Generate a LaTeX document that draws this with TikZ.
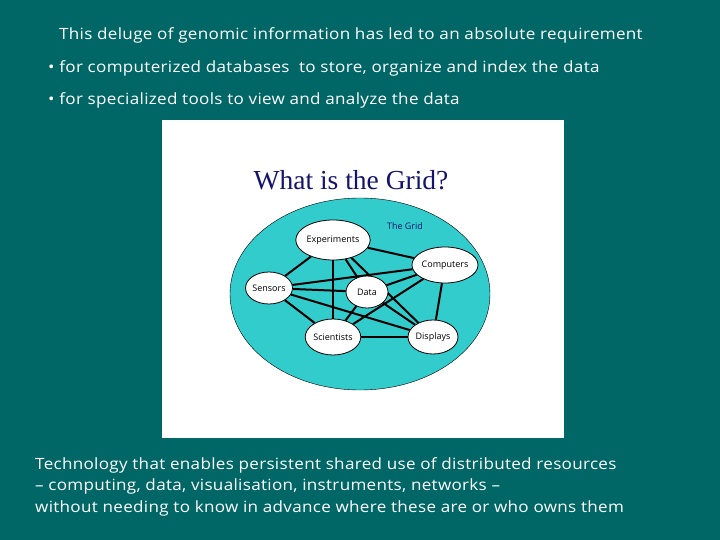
\documentclass[tikz,border=0pt]{standalone}
\usepackage{fontspec}
\setmainfont{Open Sans}[FakeStretch=1.1, LetterSpace=2]
\newfontfamily\ttl{Liberation Serif}
\newfontfamily\lbl{Open Sans}
\definecolor{bgc}{RGB}{0,102,102}
\definecolor{grd}{RGB}{51,204,204}
\definecolor{nvy}{RGB}{20,20,110}
\tikzset{>=latex}
\tikzset{nd/.style={draw, thick, fill=white, ellipse, inner sep=0pt, font=\lbl\fontsize{9}{10}\selectfont},
    ln/.style={line width=2pt},
    wt/.style={white, anchor=west, inner sep=0pt, font=\fontsize{15.5}{18}\selectfont}}
\usetikzlibrary{shapes.geometric}
\pgfdeclarelayer{edges}
\pgfsetlayers{edges,main}

\begin{document}
\begin{tikzpicture}[x=1pt, y=-1pt]
    \begin{pgfonlayer}{edges}
    \fill[bgc](0, 0)rectangle(720, 540);
    \fill[white](162, 120)rectangle(564, 438);
    \fill[grd, draw=black](360, 294)ellipse[x radius=130, y radius=96];
    \end{pgfonlayer}
    \useasboundingbox(0, 0)rectangle(720, 540);
    \node[wt](t1) at(59, 35){This deluge of genomic information has led to an absolute requirement};
    \node[wt](t2) at(48, 68){• for computerized databases\ \ to store, organize and index the data};
    \node[wt](t3) at(48, 100){• for specialized tools to view and analyze the data};
    \node[nvy, font=\ttl\fontsize{27.5}{30}\selectfont](ttl) at(351, 180){What is the Grid?};
    \node[nvy, font=\lbl\fontsize{9}{10}\selectfont](grd) at(405, 226){The Grid};
    \node[nd, minimum width=52, minimum height=40](ex) at(333, 240){Experiments};
    \node[nd, minimum width=44, minimum height=36](co) at(445, 265){Computers};
    \node[nd, minimum width=40, minimum height=32](se) at(269, 288){Sensors};
    \node[nd, minimum width=42, minimum height=32](da) at(367, 292){Data};
    \node[nd, minimum width=46, minimum height=36](sc) at(333, 337){Scientists};
    \node[nd, minimum width=50, minimum height=34](di) at(433, 337){Displays};
    \begin{pgfonlayer}{edges}
    \foreach \a/\b in {ex/co, ex/se, ex/sc, ex/da, ex/di, se/co, se/da, se/sc, se/di,
        co/da, co/sc, co/di, da/sc, da/di, sc/di}
        \draw[ln](\a)--(\b);
    \end{pgfonlayer}
    \node[wt](b1) at(35, 465){Technology that enables persistent shared use of distributed resources};
    \node[wt](b2) at(35, 486){-- computing, data, visualisation, instruments, networks --};
    \node[wt](b3) at(35, 508){without needing to know in advance where these are or who owns them};
\end{tikzpicture}
\end{document}
